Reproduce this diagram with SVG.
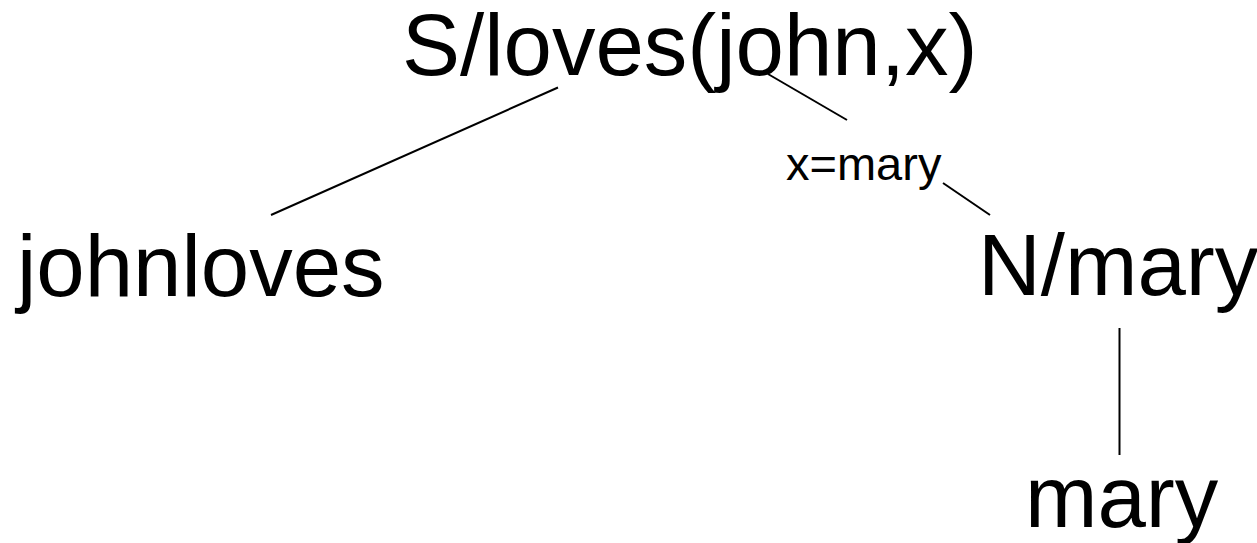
<svg xmlns="http://www.w3.org/2000/svg" width="1257" height="543" viewBox="0 0 1257 543">
  <style>
    .big { font-family: "Liberation Sans", Arial, sans-serif; font-size: 87px; fill: #000; }
    .small { font-family: "Liberation Sans", Arial, sans-serif; font-size: 47px; fill: #000; }
    .edge { stroke: #000; stroke-width: 2; fill: none; }
  </style>
  <rect width="1257" height="543" fill="#fff"/>

  <!-- tree edges -->
  <g id="connectors">
    <line class="edge" x1="558" y1="87.5" x2="271" y2="215"/>
    <line class="edge" x1="768" y1="74" x2="847" y2="120"/>
    <line class="edge" x1="943" y1="183" x2="990" y2="215"/>
    <line class="edge" x1="1119.5" y1="328" x2="1119.5" y2="455"/>
  </g>

  <g id="node-root">
    <text class="big" x="402" y="75">S/loves(john,x)</text>
  </g>
  <g id="node-johnloves">
    <text class="big" x="17" y="296">johnloves</text>
  </g>
  <g id="edge-label">
    <text class="small" x="786" y="180">x=mary</text>
  </g>
  <g id="node-nmary">
    <text class="big" x="978" y="295">N/mary</text>
  </g>
  <g id="node-mary">
    <text class="big" x="1025" y="527">mary</text>
  </g>
</svg>
